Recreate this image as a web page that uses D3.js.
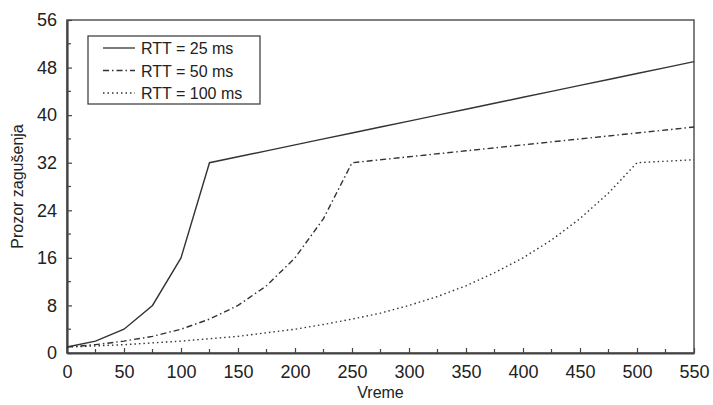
<!DOCTYPE html>
<html>
<head>
<meta charset="utf-8">
<script src="https://cdn.jsdelivr.net/npm/d3@7"></script>
<style>
  body { margin: 0; background: #fff; }
  text { font-family: "Liberation Sans", Arial, sans-serif; fill: #222; }
</style>
</head>
<body>
<div class="chart"></div>
<script>
var width = 713;
var height = 405;

// x values (ms) and window sizes
var time25 = [0, 25, 50, 75, 100, 125, 150, 175, 200, 225, 250, 275, 300, 325, 350, 375, 400, 425, 450, 475, 500, 525, 550];
var win25 = [1, 2, 4, 8, 16, 32, 33, 34, 35, 36, 37, 38, 39, 40, 41, 42, 43, 44, 45, 46, 47, 48, 49];

var time50 = [0, 25, 50, 75, 100, 125, 150, 175, 200, 225, 250, 300, 350, 400, 450, 500, 550];
var win50 = [1, 1.4, 2, 2.8, 4, 5.7, 8, 11.3, 16, 22.6, 32, 33, 34, 35, 36, 37, 38];

var time100 = [0, 25, 50, 75, 100, 125, 150, 175, 200, 225, 250, 275, 300, 325, 350, 375, 400, 425, 450, 475, 500, 550];
var win100 = [1, 1.2, 1.4, 1.7, 2, 2.4, 2.8, 3.4, 4, 4.8, 5.7, 6.7, 8, 9.5, 11.3, 13.5, 16, 19, 22.6, 26.9, 32, 32.5];

var seriesNames = ["RTT = 25 ms", "RTT = 50 ms", "RTT = 100 ms"];
var xTicks = [0, 50, 100, 150, 200, 250, 300, 350, 400, 450, 500, 550];
var yTicks = [0, 8, 16, 24, 32, 40, 48, 56];

var margin = { top: 20, right: 19, bottom: 52, left: 67 };
var w = width - margin.left - margin.right;
var h = height - margin.top - margin.bottom;

var svg = d3.select(".chart")
    .append("svg")
    .attr("width", width)
    .attr("height", height);

var g = svg.append("g")
    .attr("transform", "translate(" + margin.left + "," + margin.top + ")");

var x = d3.scaleLinear().domain([0, 550]).range([0, w]);
var y = d3.scaleLinear().domain([0, 56]).range([h, 0]);

// frame
g.append("rect")
    .attr("width", w)
    .attr("height", h)
    .attr("fill", "none")
    .attr("stroke", "#555")
    .attr("stroke-width", 1.5);

// minor ticks (inside)
var xMinor = d3.range(25, 550, 50);
var yMinor = d3.range(4, 56, 8);

g.selectAll(".xminor")
    .data(xMinor)
    .enter()
    .append("line")
    .attr("x1", function(d) { return x(d); })
    .attr("x2", function(d) { return x(d); })
    .attr("y1", h)
    .attr("y2", h - 4)
    .attr("stroke", "#444")
    .attr("stroke-width", 1.2);

g.selectAll(".yminor")
    .data(yMinor)
    .enter()
    .append("line")
    .attr("x1", 0)
    .attr("x2", 4)
    .attr("y1", function(d) { return y(d); })
    .attr("y2", function(d) { return y(d); })
    .attr("stroke", "#444")
    .attr("stroke-width", 1.2);

var xAxis = g.append("g")
    .attr("transform", "translate(0," + h + ")")
    .call(d3.axisBottom(x).tickValues(xTicks).tickSizeInner(-5).tickSizeOuter(0).tickPadding(12));

var yAxis = g.append("g")
    .call(d3.axisLeft(y).tickValues(yTicks).tickSizeInner(-5).tickSizeOuter(0).tickPadding(10));

[xAxis, yAxis].forEach(function(a) {
    a.select(".domain").attr("stroke", "#444").attr("stroke-width", 2.2);
    a.selectAll(".tick line").attr("stroke", "#444").attr("stroke-width", 1.2);
    a.selectAll(".tick text")
        .style("font-family", "'Liberation Sans', Arial, sans-serif")
        .style("font-size", "18px")
        .attr("fill", "#222");
});

// lines
var line = d3.line()
    .x(function(d) { return x(d[0]); })
    .y(function(d) { return y(d[1]); });

var dashes = [null, "6,3,1.5,3", "1.5,3"];
var series = [d3.zip(time25, win25), d3.zip(time50, win50), d3.zip(time100, win100)];

g.selectAll(".series")
    .data(series)
    .enter()
    .append("path")
    .attr("fill", "none")
    .attr("stroke", "#333")
    .attr("stroke-width", 1.4)
    .attr("stroke-dasharray", function(d, i) { return dashes[i]; })
    .attr("d", line);

// legend
var legend = svg.append("g");

legend.append("rect")
    .attr("x", 88)
    .attr("y", 36)
    .attr("width", 172)
    .attr("height", 68)
    .attr("fill", "#fff")
    .attr("stroke", "#444")
    .attr("stroke-width", 1.3);

seriesNames.forEach(function(name, i) {
    var ly = 48 + i * 22.5;
    legend.append("line")
        .attr("x1", 103)
        .attr("x2", 135)
        .attr("y1", ly)
        .attr("y2", ly)
        .attr("stroke", "#333")
        .attr("stroke-width", 1.3)
        .attr("stroke-dasharray", dashes[i]);
    legend.append("text")
        .attr("x", 141)
        .attr("y", ly + 6)
        .style("font-size", "16px")
        .text(name);
});

// axis titles
svg.append("text")
    .attr("x", margin.left + w / 2)
    .attr("y", 398)
    .attr("text-anchor", "middle")
    .style("font-size", "16px")
    .text("Vreme");

svg.append("text")
    .attr("transform", "translate(23," + (margin.top + h / 2) + ") rotate(-90)")
    .attr("text-anchor", "middle")
    .style("font-size", "16px")
    .text("Prozor zagušenja");
</script>
</body>
</html>
